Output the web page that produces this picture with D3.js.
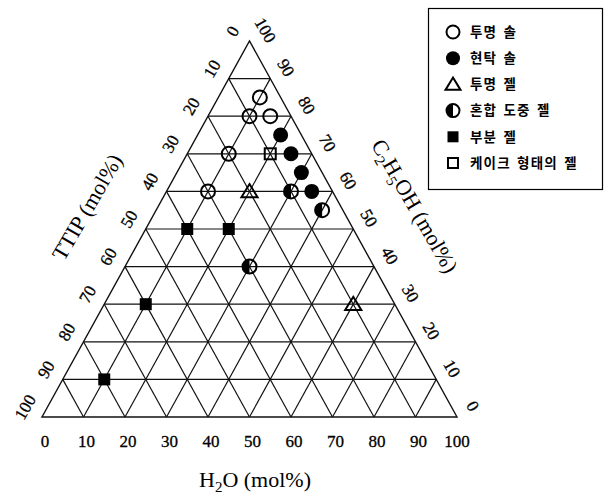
<!DOCTYPE html>
<html>
<head>
<meta charset="utf-8">
<script src="https://cdn.jsdelivr.net/npm/d3@7"></script>
<style>
  body { margin: 0; background: #fff; }
  svg { display: block; }
</style>
</head>
<body>
<div id="chart"></div>
<script>
// legend categories (phase of the product)
const categories = ["투명 솔", "현탁 솔", "투명 젤", "혼합 도중 젤", "부분 젤", "케이크 형태의 젤"];
const symbolKinds = ["openCircle", "filledCircle", "openTriangle", "halfCircle", "filledSquare", "openSquare"];

// measured compositions (mol%), TTIP = 100 - H2O - C2H5OH
const h2o   = [10, 10, 15, 10, 10,   20, 25, 30, 35,   20, 60,   30, 40, 30,   10, 20, 10, 10,   20];
const etoh  = [85, 80, 80, 70, 60,   75, 70, 65, 60,   60, 30,   60, 55, 40,   50, 50, 30, 10,   70];
const phase = [0, 0, 0, 0, 0,        1, 1, 1, 1,       2, 2,     3, 3, 3,      4, 4, 4, 4,       5];

const ticks = d3.range(0, 101, 10);

const width = 611;
const height = 494;

const svg = d3.select("#chart").append("svg")
  .attr("width", width)
  .attr("height", height);

// H2O runs along the base, C2H5OH goes up to the apex
const x = d3.scaleLinear().domain([0, 100]).range([42, 457]);
const y = d3.scaleLinear().domain([0, 100]).range([417, 41]);

const px = (h, c) => x(h + c / 2);
const py = (h, c) => y(c);

const serif = "'Liberation Serif', 'Times New Roman', serif";

// grid lines
const grid = svg.append("g")
  .attr("stroke", "#111")
  .attr("stroke-width", 1.2)
  .attr("fill", "none");

const gridLines = [];
d3.range(10, 100, 10).forEach(v => {
  // C2H5OH constant (horizontal)
  gridLines.push([[0, v], [100 - v, v]]);
  // H2O constant
  gridLines.push([[v, 0], [v, 100 - v]]);
  // TTIP constant
  gridLines.push([[0, 100 - v], [100 - v, 0]]);
});

grid.selectAll("line")
  .data(gridLines)
  .enter()
  .append("line")
  .attr("x1", d => px(d[0][0], d[0][1]))
  .attr("y1", d => py(d[0][0], d[0][1]))
  .attr("x2", d => px(d[1][0], d[1][1]))
  .attr("y2", d => py(d[1][0], d[1][1]));

// outline
const corners = [[0, 0], [100, 0], [0, 100]];
svg.append("path")
  .attr("d", d3.line()(corners.map(d => [px(d[0], d[1]), py(d[0], d[1])])) + "Z")
  .attr("fill", "none")
  .attr("stroke", "#111")
  .attr("stroke-width", 1.4);

// tick label style, a bit heavy like the printed original
function tickText(sel) {
  sel.attr("font-family", serif)
    .attr("font-size", "17px")
    .attr("stroke", "#000")
    .attr("stroke-width", 0.3)
    .text(d => d);
}

// bottom tick labels (H2O)
svg.append("g").selectAll("text")
  .data(ticks)
  .enter()
  .append("text")
  .attr("x", d => px(d, 0) + (d === 100 ? 0 : 3))
  .attr("y", 447)
  .attr("text-anchor", "middle")
  .call(tickText);

// left tick labels (TTIP)
svg.append("g").selectAll("text")
  .data(ticks)
  .enter()
  .append("text")
  .attr("transform", d => `translate(${px(0, 100 - d) - 17},${py(0, 100 - d) - 10}) rotate(-60)`)
  .attr("text-anchor", "middle")
  .attr("dy", "0.35em")
  .call(tickText);

// right tick labels (C2H5OH)
svg.append("g").selectAll("text")
  .data(ticks)
  .enter()
  .append("text")
  .attr("transform", d => `translate(${px(100 - d, d) + 16},${py(100 - d, d) - 11}) rotate(60)`)
  .attr("text-anchor", "middle")
  .attr("dy", "0.35em")
  .call(tickText);

// axis titles
svg.append("text")
  .attr("x", 255)
  .attr("y", 487)
  .attr("text-anchor", "middle")
  .attr("font-family", serif)
  .attr("font-size", "22px")
  .html('H<tspan font-size="15px" dy="5">2</tspan><tspan dy="-5">O (mol%)</tspan>');

svg.append("text")
  .attr("transform", "translate(87,207) rotate(-60)")
  .attr("text-anchor", "middle")
  .attr("dy", "0.35em")
  .attr("font-family", serif)
  .attr("font-size", "22px")
  .text("TTIP (mol%)");

svg.append("text")
  .attr("transform", "translate(415,206) rotate(60)")
  .attr("text-anchor", "middle")
  .attr("dy", "0.35em")
  .attr("font-family", serif)
  .attr("font-size", "22px")
  .html('C<tspan font-size="15px" dy="5">2</tspan><tspan dy="-5">H</tspan><tspan font-size="15px" dy="5">5</tspan><tspan dy="-5">OH (mol%)</tspan>');

// marker drawing
function drawSymbol(g, kind, size) {
  const r = size;
  if (kind === "openCircle") {
    g.append("circle").attr("r", r).attr("fill", "none").attr("stroke", "#000").attr("stroke-width", 2);
  } else if (kind === "filledCircle") {
    g.append("circle").attr("r", r + 0.5).attr("fill", "#000");
  } else if (kind === "openTriangle") {
    const s = r * 1.05;
    g.append("path")
      .attr("d", `M0,${-s} L${s * 1.1},${s * 0.8} L${-s * 1.1},${s * 0.8} Z`)
      .attr("fill", "none").attr("stroke", "#000").attr("stroke-width", 2);
  } else if (kind === "halfCircle") {
    g.append("path")
      .attr("d", `M0,${-r} A${r},${r} 0 0 0 0,${r} Z`)
      .attr("fill", "#000");
    g.append("circle").attr("r", r).attr("fill", "none").attr("stroke", "#000").attr("stroke-width", 2);
  } else if (kind === "filledSquare") {
    g.append("rect").attr("x", -r + 1).attr("y", -r + 1).attr("width", 2 * r - 2).attr("height", 2 * r - 2).attr("fill", "#000");
  } else if (kind === "openSquare") {
    g.append("rect").attr("x", -r + 1.5).attr("y", -r + 1.5).attr("width", 2 * r - 3).attr("height", 2 * r - 3)
      .attr("fill", "none").attr("stroke", "#000").attr("stroke-width", 2);
  }
}

// data points
const points = h2o.map((h, i) => ({ h, c: etoh[i], kind: symbolKinds[phase[i]] }));

svg.append("g").selectAll("g")
  .data(points)
  .enter()
  .append("g")
  .attr("transform", d => `translate(${px(d.h, d.c)},${py(d.h, d.c)})`)
  .each(function (d) { drawSymbol(d3.select(this), d.kind, 7); });

// legend
const legend = svg.append("g");
legend.append("rect")
  .attr("x", 428.5)
  .attr("y", 8.5)
  .attr("width", 174)
  .attr("height", 181)
  .attr("fill", "#fff")
  .attr("stroke", "#000")
  .attr("stroke-width", 1.2);

const rowY = d3.scalePoint().domain(categories).range([32, 163]);

const items = legend.selectAll("g.item")
  .data(categories)
  .enter()
  .append("g")
  .attr("class", "item")
  .attr("transform", d => `translate(453,${rowY(d)})`);

items.each(function (d, i) { drawSymbol(d3.select(this), symbolKinds[i], 6.5); });

items.append("text")
  .attr("x", 17)
  .attr("dy", "0.36em")
  .attr("font-family", "'Noto Sans CJK KR', sans-serif")
  .attr("font-weight", "bold")
  .attr("font-size", "13.5px")
  .attr("letter-spacing", "1.2px")
  .attr("word-spacing", "2px")
  .text(d => d);
</script>
</body>
</html>
